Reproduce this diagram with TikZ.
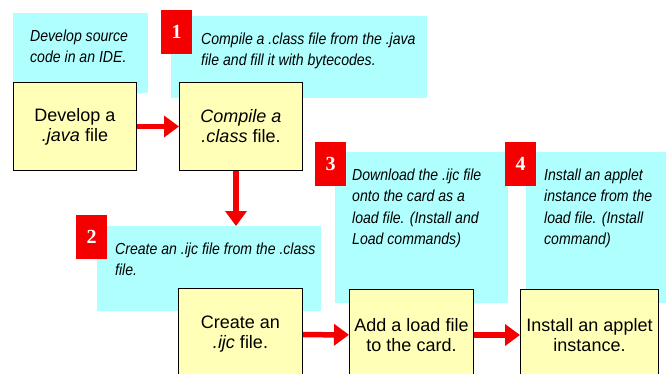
\documentclass[tikz,border=0pt]{standalone}
\usepackage{fontspec}
\setmainfont{Liberation Sans}
\newfontfamily\notefont[FakeStretch=0.88]{Liberation Sans}
\newfontfamily\numfont{Liberation Serif}
\usetikzlibrary{arrows.meta}
\definecolor{notecyan}{RGB}{175,255,255}
\definecolor{boxyellow}{RGB}{255,255,183}
\definecolor{stepred}{RGB}{245,0,0}
% width, height, left inset, text
\newcommand{\notetext}[4]{\parbox[c][#2pt][t]{#1pt}{\vspace*{13pt}\leftskip=#3pt\rightskip=0pt plus 1fil\strut #4}}
\begin{document}
\begin{tikzpicture}[x=1pt,y=-1pt,
  note/.style={fill=notecyan, inner sep=0, anchor=north west, font=\notefont\itshape\fontsize{16}{21.5}\selectfont},
  filebox/.style={draw=black, line width=1pt, fill=boxyellow, align=center, inner sep=0, anchor=north west, font=\fontsize{18}{20}\selectfont},
  stepnum/.style={fill=stepred, text=white, inner sep=0, anchor=north west, minimum width=31pt, minimum height=44pt, font=\numfont\bfseries\fontsize{20}{20}\selectfont},
  flow/.style={draw=stepred, line width=5.5pt, -{Triangle[width=21pt,length=15pt]}}]
\useasboundingbox (0,0) rectangle (666,373);
\clip (0,0) rectangle (666,373);

\node[note] (srcnote) at (13,13) {\notetext{135}{80}{17}{Develop source\\code in an IDE.}};
\node[note] (classnote) at (171,16) {\notetext{256}{82}{30}{Compile a .class file from the .java\\file and fill it with bytecodes.}};
\node[note] (ijcnote) at (97,226) {\notetext{224}{85}{18}{Create an .ijc file from the .class\\file.}};
\node[note] (loadnote) at (335,152) {\notetext{173}{151}{17}{Download the .ijc file\\onto the card as a\\load file. (Install and\\Load commands)}};
\node[note] (appletnote) at (526,152) {\notetext{150}{151}{18}{Install an applet\\instance from the\\load file. (Install\\command)}};

\node[filebox, minimum width=123pt, minimum height=88pt] (javabox) at (13,82) {Develop a\\\textit{.java} file};
\node[filebox, minimum width=123pt, minimum height=88pt] (classbox) at (179,82) {\textit{Compile a}\\\textit{.class} file.};
\node[filebox, minimum width=124pt, minimum height=92pt] (ijcbox) at (178,288) {Create an\\\textit{.ijc} file.};
\node[filebox, minimum width=124pt, minimum height=91pt] (loadbox) at (349,289) {Add a load file\\to the card.};
\node[filebox, minimum width=138pt, minimum height=91pt] (appletbox) at (520,289) {Install an applet\\instance.};

\foreach \n/\x/\y in {1/161/10, 2/76/215, 3/315/142, 4/505/142}
  \node[stepnum] (num\n) at (\x,\y) {\n};

\draw[flow] (javabox) -- (classbox);
\draw[flow] ([xshift=-5pt]classbox.south) -- ([xshift=-5pt]classbox.south |- ijcnote.north);
\draw[flow] (ijcbox) -- (loadbox);
\draw[flow] (loadbox) -- (appletbox);
\end{tikzpicture}
\end{document}
